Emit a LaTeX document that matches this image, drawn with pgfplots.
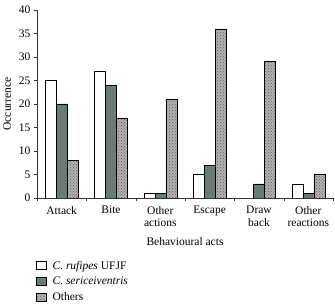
\documentclass[border=0pt]{standalone}
\usepackage{pgfplots}
\pgfplotsset{compat=1.18}
\usepackage{fontspec}
\setmainfont{Liberation Serif}
\usetikzlibrary{patterns}
\definecolor{darkg}{RGB}{108,122,117}
\begin{document}
\begin{tikzpicture}[font=\fontsize{11.5}{12.5}\selectfont]
\begin{axis}[
  scale only axis, width=296pt, height=188pt,
  ybar=0pt, bar width=11pt,
  xmin=-0.5, xmax=5.5, ymin=0, ymax=40,
  axis x line=bottom, axis y line=left,
  axis line style={-, black!80},
  xtick={0,1,2,3,4,5},
  xticklabels={Attack, Bite, {Other\\actions}, Escape, {Draw\\back}, {Other\\reactions}},
  xticklabel style={align=center, anchor=north, yshift=-1.5pt},
  major x tick style={draw=none},
  minor xtick={-0.5,0.5,1.5,2.5,3.5,4.5,5.5},
  minor x tick style={black!80},
  minor tick length=3pt,
  ytick={0,5,...,40},
  tick align=outside, major tick length=3pt,
  y tick style={black!80},
  /pgf/number format/assume math mode=true,
  xlabel={Behavioural acts},
  xlabel style={at={(rel axis cs:0.5,0)}, anchor=center, yshift=-44pt},
  ylabel={Occurrence},
  ylabel style={at={(rel axis cs:0,0.5)}, anchor=center, yshift=30pt},
  legend style={at={(rel axis cs:0,0)}, anchor=north west, yshift=-61pt, xshift=-1pt, draw=none, fill=none, row sep=2.5pt, inner sep=0pt, font=\fontsize{11.5}{12.5}\selectfont},
  legend cell align=left,
  legend image code/.code={\draw[#1] (0pt,-3.5pt) rectangle (10pt,4.5pt); \path (14pt,0pt);},
]
\coordinate (O) at (rel axis cs:0,0);
\addplot[draw=black, fill=white] coordinates {(0,25) (1,27) (2,1) (3,5) (4,0) (5,3)};
\addplot[draw=black, fill=darkg] coordinates {(0,20) (1,24) (2,1) (3,7) (4,3) (5,1)};
\addplot[draw=black, fill=black!30, postaction={pattern=crosshatch dots, pattern color=black!65}] coordinates {(0,8) (1,17) (2,21) (3,36) (4,29) (5,5)};
\legend{\textit{C. rufipes} UFJF, \textit{C. sericeiventris}, Others}
\end{axis}
\pgfresetboundingbox
\path (O) ++(-37pt,-106pt) rectangle ++(335pt,304pt);
\end{tikzpicture}
\end{document}
